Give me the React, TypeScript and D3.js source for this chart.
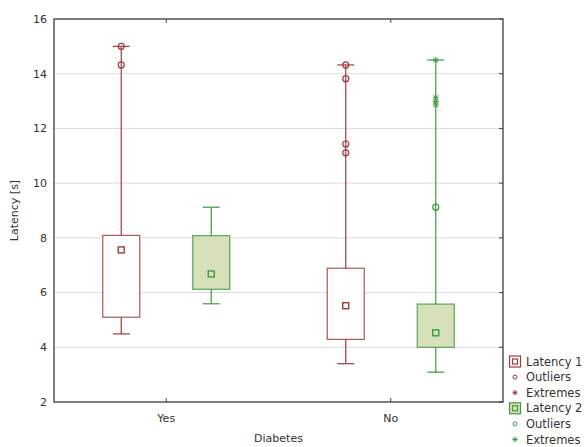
import React, { useRef, useEffect } from "react";
import * as d3 from "d3";

const categories = ["Yes", "No"];
const seriesNames = ["Latency 1", "Latency 2"];
// whisker ends, box edges and mean per category
const latency1 = [
  { lo: 4.49, q1: 5.1, mid: 7.56, q3: 8.09, hi: 15.0 },
  { lo: 3.4, q1: 4.29, mid: 5.52, q3: 6.89, hi: 14.32 },
];
const latency2 = [
  { lo: 5.59, q1: 6.12, mid: 6.68, q3: 8.08, hi: 9.12 },
  { lo: 3.09, q1: 4.0, mid: 4.53, q3: 5.58, hi: 14.5 },
];
const outliers1 = [[15.0, 14.32], [14.32, 13.82, 11.43, 11.11]];
const outliers2 = [[], [9.12]];
const extremes1 = [[], []];
const extremes2 = [[], [14.5, 13.12, 12.98, 12.86]];
const yTicks = [2, 4, 6, 8, 10, 12, 14, 16];

const RED = "#a03a3a";
const GREEN = "#3f9a3f";
const FILL = "#d6e1b9";

const App = () => {
  const container = useRef(null);

  useEffect(() => {
    const node = container.current;
    const margins = { t: 19, l: 54, r: 83, b: 45 };
    const width = 586, height = 447;
    const svg = d3.select(node).selectAll("svg").data([0]).join("svg")
      .attr("width", width).attr("height", height)
      .style("position", "absolute").style("left", 0).style("top", 0)
      .style("font-family", "DejaVu Sans, sans-serif");
    svg.selectAll("*").remove();

    const x = d3.scalePoint().domain(categories).range([margins.l, width - margins.r]).padding(0.5);
    const y = d3.scaleLinear().domain([2, 16]).range([height - margins.b, margins.t]);
    const x0 = margins.l, x1 = width - margins.r, y0 = y(2), y1 = y(16);

    // grid
    svg.append("g").selectAll("line").data(yTicks.slice(1, -1)).join("line")
      .attr("x1", x0).attr("x2", x1).attr("y1", (d) => y(d)).attr("y2", (d) => y(d))
      .attr("stroke", "#dcdcdc").attr("stroke-width", 1);

    const offset = 45, boxW = 37, capW = 17;
    const series = [
      { data: latency1, out: outliers1, ext: extremes1, color: RED, fill: "#fff", dx: -offset },
      { data: latency2, out: outliers2, ext: extremes2, color: GREEN, fill: FILL, dx: offset },
    ];

    series.forEach((s) => {
      const g = svg.append("g").attr("stroke-width", 1.2);
      s.data.forEach((d, i) => {
        const cx = x(categories[i]) + s.dx;
        g.append("line").attr("x1", cx).attr("x2", cx).attr("y1", y(d.hi)).attr("y2", y(d.lo))
          .attr("stroke", s.color);
        g.append("line").attr("x1", cx - capW / 2).attr("x2", cx + capW / 2)
          .attr("y1", y(d.hi)).attr("y2", y(d.hi)).attr("stroke", s.color);
        g.append("line").attr("x1", cx - capW / 2).attr("x2", cx + capW / 2)
          .attr("y1", y(d.lo)).attr("y2", y(d.lo)).attr("stroke", s.color);
        g.append("rect").attr("x", cx - boxW / 2).attr("width", boxW)
          .attr("y", y(d.q3)).attr("height", y(d.q1) - y(d.q3))
          .attr("fill", s.fill).attr("stroke", s.color).attr("stroke-opacity", 0.85);
        g.append("rect").attr("x", cx - 3).attr("y", y(d.mid) - 3).attr("width", 6).attr("height", 6)
          .attr("fill", "none").attr("stroke", s.color).attr("stroke-width", 1.4);
        s.out[i].forEach((v) => {
          g.append("circle").attr("cx", cx).attr("cy", y(v)).attr("r", 3)
            .attr("fill", "none").attr("stroke", s.color);
        });
        s.ext[i].forEach((v) => {
          g.append("path").attr("transform", `translate(${cx},${y(v)})`)
            .attr("d", "M-3,0H3M-2.5,-2.5L2.5,2.5M-2.5,2.5L2.5,-2.5M0,-3V3")
            .attr("stroke", s.color).attr("stroke-width", 1).attr("fill", "none");
        });
      });
    });

    // frame
    svg.append("rect").attr("x", x0).attr("y", y1).attr("width", x1 - x0).attr("height", y0 - y1)
      .attr("fill", "none").attr("stroke", "#555").attr("stroke-width", 1.5);

    // ticks
    const tk = svg.append("g").attr("stroke", "#444");
    yTicks.forEach((t) => {
      tk.append("line").attr("x1", x1 - 4).attr("x2", x1).attr("y1", y(t)).attr("y2", y(t));
    });
    categories.forEach((c) => {
      tk.append("line").attr("x1", x(c)).attr("x2", x(c)).attr("y1", y0 - 4).attr("y2", y0);
      tk.append("line").attr("x1", x(c)).attr("x2", x(c)).attr("y1", y1).attr("y2", y1 + 4);
    });

    svg.append("g").selectAll("text").data(yTicks).join("text")
      .attr("x", x0 - 7).attr("y", (d) => y(d)).attr("dy", "0.35em")
      .attr("text-anchor", "end").attr("font-size", 11).attr("fill", "#333").text((d) => d);
    svg.append("g").selectAll("text").data(categories).join("text")
      .attr("x", (d) => x(d)).attr("y", y0 + 20)
      .attr("text-anchor", "middle").attr("font-size", 11).attr("fill", "#333").text((d) => d);

    svg.append("text").attr("x", (x0 + x1) / 2).attr("y", 442).attr("text-anchor", "middle")
      .attr("font-size", 11).attr("fill", "#333").text("Diabetes");
    svg.append("text").attr("transform", `translate(18,${(y0 + y1) / 2}) rotate(-90)`)
      .attr("text-anchor", "middle").attr("font-size", 11).attr("fill", "#333").text("Latency [s]");

    // legend
    const lg = svg.append("g").attr("font-size", 11.5).attr("fill", "#333");
    const items = [
      { kind: "box", color: RED, fill: "#fff", label: seriesNames[0] },
      { kind: "out", color: RED, label: "Outliers" },
      { kind: "ext", color: RED, label: "Extremes" },
      { kind: "box", color: GREEN, fill: FILL, label: seriesNames[1] },
      { kind: "out", color: GREEN, label: "Outliers" },
      { kind: "ext", color: GREEN, label: "Extremes" },
    ];
    items.forEach((it, i) => {
      const ly = 361.5 + i * 15.6;
      const lx = 515;
      if (it.kind === "box") {
        lg.append("rect").attr("x", lx - 5.5).attr("y", ly - 5.5).attr("width", 11).attr("height", 11)
          .attr("fill", it.fill).attr("stroke", it.color).attr("stroke-width", 1.2);
        lg.append("rect").attr("x", lx - 2.5).attr("y", ly - 2.5).attr("width", 5).attr("height", 5)
          .attr("fill", "none").attr("stroke", it.color).attr("stroke-width", 1.2);
      } else if (it.kind === "out") {
        lg.append("circle").attr("cx", lx).attr("cy", ly).attr("r", 2)
          .attr("fill", "none").attr("stroke", it.color);
      } else {
        lg.append("path").attr("transform", `translate(${lx},${ly})`)
          .attr("d", "M-2.5,0H2.5M-2,-2L2,2M-2,2L2,-2M0,-2.5V2.5")
          .attr("stroke", it.color).attr("fill", "none");
      }
      lg.append("text").attr("x", 526).attr("y", ly).attr("dy", "0.35em").text(it.label);
    });
  });

  return <div ref={container}></div>;
};

export default App;
